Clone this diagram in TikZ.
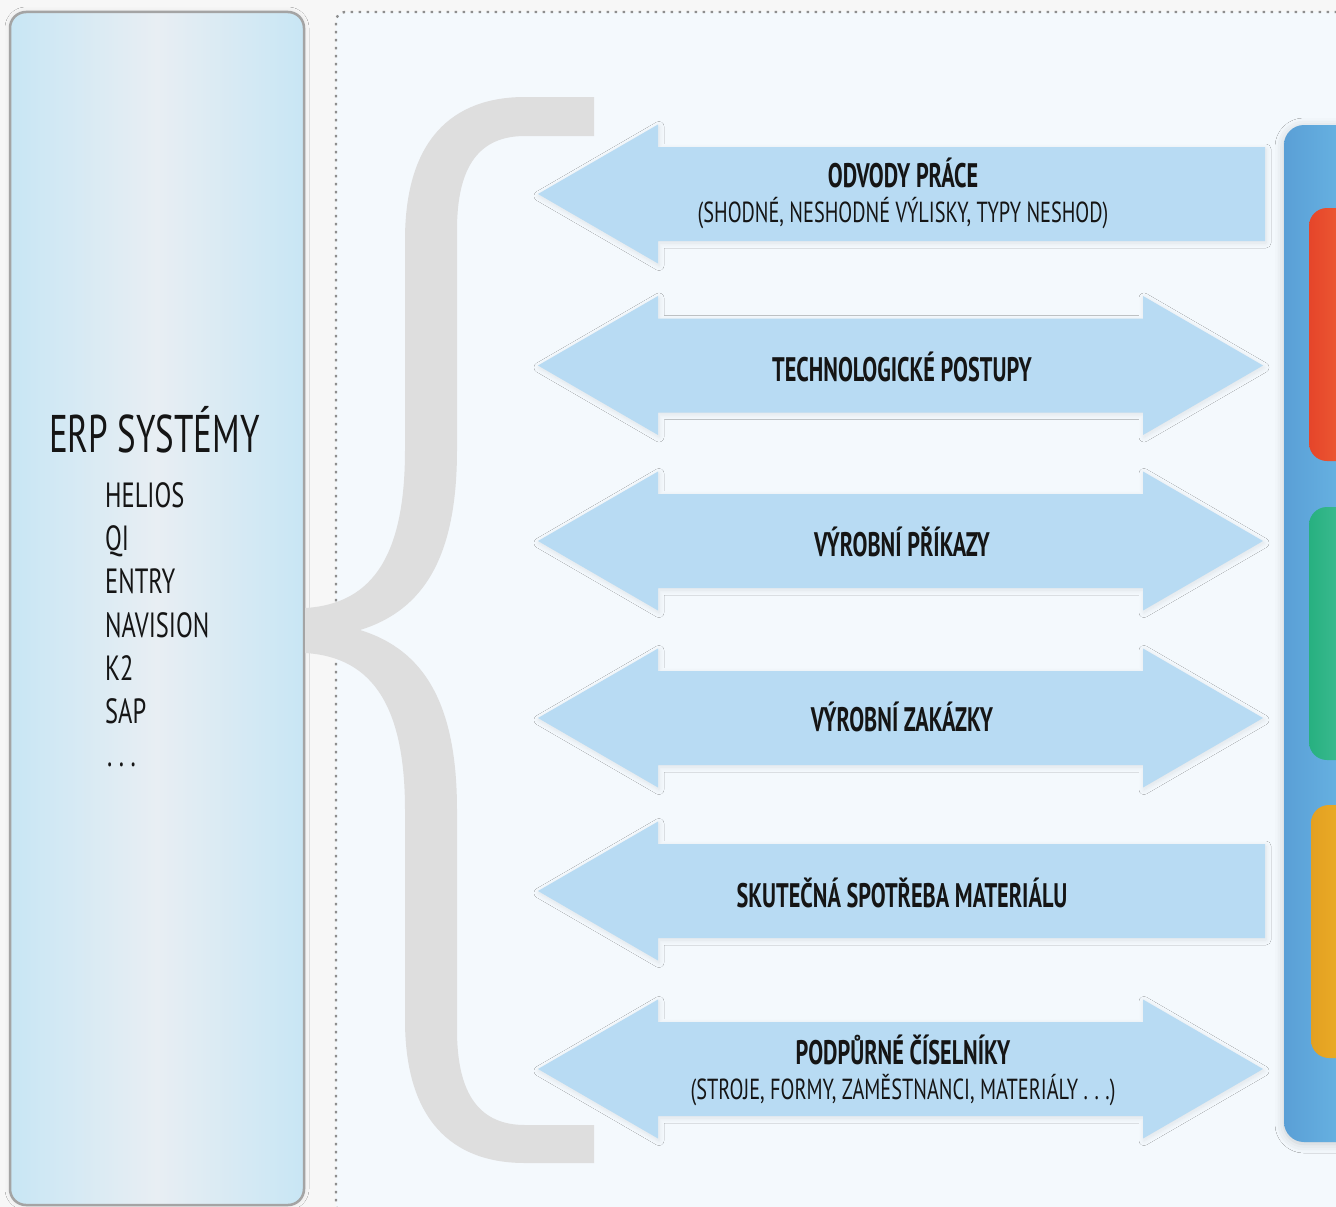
\documentclass[tikz,border=0pt]{standalone}
\usepackage{fontspec}
\setmainfont{PT Sans}[FakeStretch=0.70]
\newfontfamily\condB{PT Sans}[FakeStretch=0.655]
\newfontfamily\condT{PT Sans}[FakeStretch=0.66]
\usetikzlibrary{shadows.blur}
\definecolor{bgc}{HTML}{F7F7F7}
\definecolor{areac}{HTML}{F4F9FD}
\definecolor{dotc}{HTML}{8E8E8E}
\definecolor{panL}{HTML}{C8E6F4}
\definecolor{panM}{HTML}{E8EEF3}
\definecolor{panB}{HTML}{A4A4A4}
\definecolor{bracec}{HTML}{DEDEDE}
\definecolor{arrowc}{HTML}{B8DBF3}
\definecolor{blueL}{HTML}{5A9FD6}
\definecolor{blueR}{HTML}{6DBBE7}
\definecolor{redL}{HTML}{E5452A}
\definecolor{redR}{HTML}{F36A3A}
\definecolor{greenL}{HTML}{27B080}
\definecolor{greenR}{HTML}{4FC49E}
\definecolor{yelL}{HTML}{E3A021}
\definecolor{yelR}{HTML}{F1B72C}
\definecolor{txt}{HTML}{151515}
\tikzset{
  arrowshape/.style={fill=arrowc, blur shadow={shadow xshift=1pt, shadow yshift=-2pt, shadow opacity=9, shadow blur radius=5pt, shadow blur steps=10}},
  larrow/.pic={\path[arrowshape] (538,0) -- (658,-69.5) -- (658,-47) -- (1265,-47) -- (1265,47) -- (658,47) -- (658,69.5) -- cycle;},
  darrow/.pic={\path[arrowshape] (538,0) -- (658,-69.5) -- (658,-47) -- (1143,-47) -- (1143,-69.5) -- (1263,0) -- (1143,69.5) -- (1143,47) -- (658,47) -- (658,69.5) -- cycle;},
  boldlbl/.style={anchor=base, text=txt, font=\condB\bfseries\fontsize{34}{36}\selectfont, inner sep=0pt},
  reglbl/.style={anchor=base, text=txt, font=\fontsize{29}{31}\selectfont, inner sep=0pt},
  listlbl/.style={anchor=base west, text=txt, font=\fontsize{35}{37}\selectfont, inner sep=0pt},
}
\newcommand\wdots{.\hspace{6.5pt}.\hspace{6.5pt}.}
\begin{document}
\begin{tikzpicture}[x=1pt,y=-1pt]
\useasboundingbox (0,0) rectangle (1336,1207);
\fill[bgc] (0,0) rectangle (1336,1207);
% dotted working area
\fill[areac, rounded corners=9] (336,12) rectangle (1360,1225);
\draw[dotc, line width=2.4pt, dash pattern=on 2.4pt off 5.6pt, rounded corners=9] (1345,12) -- (336,12) -- (336,1214) -- (1345,1214);
% left panel
\path[left color=panL, right color=panL, middle color=panM, rounded corners=16,
      blur shadow={shadow xshift=0pt, shadow yshift=0pt, shadow opacity=10, shadow blur radius=5pt}]
      (10,12) rectangle (304,1205);
\draw[panB, line width=2.5pt, rounded corners=16] (10,12) rectangle (304,1205);
% brace
\fill[bracec] (594,97) -- (525,97)
  .. controls (452,97) and (405,140) .. (405,240)
  -- (405,450)
  .. controls (405,552) and (375,604) .. (305,608)
  -- (305,653)
  .. controls (375,657) and (405,710) .. (405,810)
  -- (405,1020)
  .. controls (405,1120) and (452,1163) .. (525,1163)
  -- (594,1163) -- (594,1125) -- (525,1125)
  .. controls (480,1125) and (457,1095) .. (457,1030)
  -- (457,810)
  .. controls (457,705) and (425,650) .. (360,630)
  .. controls (425,610) and (457,555) .. (457,450)
  -- (457,230)
  .. controls (457,165) and (480,136) .. (525,136)
  -- (594,136) -- cycle;
% right panel
\path[left color=blueL, right color=blueR, rounded corners=20,
      blur shadow={shadow xshift=0pt, shadow yshift=-2pt, shadow opacity=18, shadow blur radius=9pt}]
      (1284,125) rectangle (1370,1142);
\path[left color=redL, right color=redR, rounded corners=18] (1309,208) rectangle (1370,461);
\path[left color=greenL, right color=greenR, rounded corners=18] (1309,507) rectangle (1370,760);
\path[left color=yelL, right color=yelR, rounded corners=18] (1311,805) rectangle (1370,1058);
% arrows
\pic at (0,194) {larrow};
\pic at (0,365.5) {darrow};
\pic at (0,541) {darrow};
\pic at (0,718) {darrow};
\pic at (0,891) {larrow};
\pic at (0,1069) {darrow};
% arrow labels
\node[boldlbl] (a1) at (903,187) {ODVODY PRÁCE};
\node[reglbl] (a1s) at (903,222) {(SHODNÉ, NESHODNÉ VÝLISKY, TYPY NESHOD)};
\node[boldlbl] (a2) at (902,381) {TECHNOLOGICKÉ POSTUPY};
\node[boldlbl] (a3) at (902,556) {VÝROBNÍ PŘÍKAZY};
\node[boldlbl] (a4) at (902,731) {VÝROBNÍ ZAKÁZKY};
\node[boldlbl] (a5) at (902,907) {SKUTEČNÁ SPOTŘEBA MATERIÁLU};
\node[boldlbl] (a6) at (903,1064) {PODPŮRNÉ ČÍSELNÍKY};
\node[reglbl] (a6s) at (903,1099) {(STROJE, FORMY, ZAMĚSTNANCI, MATERIÁLY \wdots)};
% ERP list
\node[anchor=base west, text=txt, font=\condT\fontsize{53}{55}\selectfont, inner sep=0pt] (erp) at (49,452) {ERP SYSTÉMY};
\node[listlbl] (l1) at (105,507) {HELIOS};
\node[listlbl] (l2) at (105,550) {QI};
\node[listlbl] (l3) at (105,593) {ENTRY};
\node[listlbl] (l4) at (105,637) {NAVISION};
\node[listlbl] (l5) at (105,680) {K2};
\node[listlbl] (l6) at (105,723) {SAP};
\node[listlbl] (l7) at (107,766) {\wdots};
\end{tikzpicture}
\end{document}
